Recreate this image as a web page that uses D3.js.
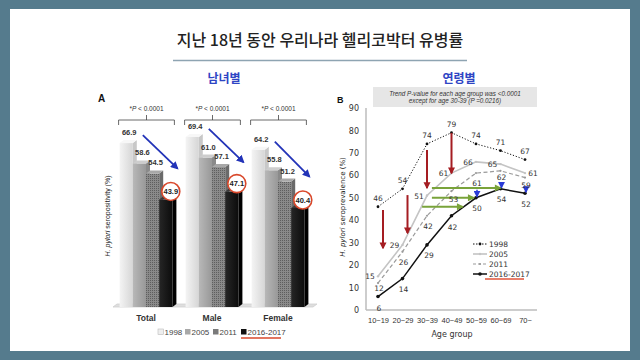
<!DOCTYPE html>
<html><head><meta charset="utf-8">
<script src="https://cdn.jsdelivr.net/npm/d3@7"></script>
<style>html,body{margin:0;padding:0;background:#fff}svg{display:block}</style>
</head><body>
<svg id="c" width="640" height="360"></svg>
<script>
// ---------- data ----------
const titleText = "지난 18년 동안 우리나라 헬리코박터 유병률";
const subA = "남녀별", subB = "연령별";
const groups = ["Total", "Male", "Female"];
const years = ["1998", "2005", "2011", "2016-2017"];
const totalValues = [66.9, 58.6, 54.5, 43.9];
const maleValues = [69.4, 61.0, 57.1, 47.1];
const femaleValues = [64.2, 55.8, 51.2, 40.4];
const groupValues = [totalValues, maleValues, femaleValues];
const pLabel = "< 0.0001";

const ages = ["10~19", "20~29", "30~39", "40~49", "50~59", "60~69", "70~"];
const s1998 = [46, 54, 74, 79, 74, 71, 67];
const s2005 = [15, 29, 51, 61, 66, 65, 61];
const s2011 = [12, 26, 42, 53, 61, 62, 59];
const s2016 = [6, 14, 29, 42, 50, 54, 52];
const yTicksB = [0, 10, 20, 30, 40, 50, 60, 70, 80, 90];
const redArrows = [[0, 44.6, 27.6], [1, 51.2, 34.3], [2, 71.3, 54.4], [3, 78.9, 61.0]]; // [age index, from, to]
const greenArrows = [[54.4, 2.2, 5.0], [50.0, 2.2, 3.9], [46.0, 1.8, 3.45]];        // [value, from idx, to idx]
const blueArrows = [[4, 53.6, 50.6], [5, 57.0, 54.6], [6, 55.0, 52.6]];
const trendLines = ["Trend P-value for each age group was <0.0001", "except for age 30-39 (P =0.0216)"];

// ---------- setup ----------
const svg = d3.select("#c");
const KR = "'Noto Sans CJK KR','Noto Sans',sans-serif";
const LS = "'Liberation Sans',Arial,sans-serif";
const DJ = "'DejaVu Sans',sans-serif";
const defs = svg.append("defs");
function arrowMarker(id, color, w, h) {
  defs.append("marker").attr("id", id).attr("viewBox", "0 0 10 10").attr("refX", 8).attr("refY", 5)
    .attr("markerWidth", w).attr("markerHeight", h).attr("orient", "auto").attr("markerUnits", "userSpaceOnUse")
    .append("path").attr("d", "M0,0 L10,5 L0,10 z").attr("fill", color);
}
arrowMarker("ab", "#2233b8", 8, 8);
arrowMarker("ar", "#a51d22", 7, 8);
arrowMarker("ag", "#79a33a", 8, 7);
arrowMarker("abs", "#2a3bd6", 7, 7);

const g1 = defs.append("linearGradient").attr("id", "g1998");
g1.append("stop").attr("offset", "0").attr("stop-color", "#f4f4f4");
g1.append("stop").attr("offset", "1").attr("stop-color", "#d6d6d6");
const g2 = defs.append("linearGradient").attr("id", "g2005");
g2.append("stop").attr("offset", "0").attr("stop-color", "#b8b8b8");
g2.append("stop").attr("offset", "1").attr("stop-color", "#989898");
const pat = defs.append("pattern").attr("id", "p2011").attr("width", 2).attr("height", 2).attr("patternUnits", "userSpaceOnUse");
pat.append("rect").attr("width", 2).attr("height", 2).attr("fill", "#8a8a8a");
pat.append("rect").attr("width", 1).attr("height", 1).attr("fill", "#5e5e5e");
const g4 = defs.append("linearGradient").attr("id", "g2016");
g4.append("stop").attr("offset", "0").attr("stop-color", "#262626");
g4.append("stop").attr("offset", "1").attr("stop-color", "#0c0c0c");
const fronts = ["url(#g1998)", "url(#g2005)", "url(#p2011)", "url(#g2016)"];
const tops = ["#f7f7f7", "#cdcdcd", "#a8a8a8", "#3a3a3a"];
const sides = ["#c8c8c8", "#8a8a8a", "#6a6a6a", "#000"];
const legendFill = ["#eeeeee", "#a8a8a8", "#7a7a7a", "#111"];

// frame
svg.append("rect").attr("width", 640).attr("height", 360).attr("fill", "#557b8d");
svg.append("rect").attr("x", 10).attr("y", 9).attr("width", 620).attr("height", 342).attr("fill", "#fff");

// title
svg.append("text").attr("x", 320).attr("y", 46).attr("text-anchor", "middle")
  .attr("font-family", KR).attr("font-size", 16).attr("font-weight", 500).attr("fill", "#222").text(titleText);
svg.append("line").attr("x1", 173).attr("x2", 467).attr("y1", 60.5).attr("y2", 60.5)
  .attr("stroke", "#8ea4b2").attr("stroke-width", 1.5);
svg.append("text").attr("x", 224).attr("y", 83).attr("text-anchor", "middle").attr("font-family", KR)
  .attr("font-size", 12).attr("font-weight", 700).attr("fill", "#2f45c4").text(subA);
svg.append("text").attr("x", 459).attr("y", 83).attr("text-anchor", "middle").attr("font-family", KR)
  .attr("font-size", 12).attr("font-weight", 700).attr("fill", "#2f45c4").text(subB);

// ---------- Panel A ----------
const A = svg.append("g");
A.append("text").attr("x", 98).attr("y", 102).attr("font-family", LS).attr("font-weight", 700)
  .attr("font-size", 10).attr("fill", "#111").text("A");
const xG = d3.scaleBand().domain(groups).range([113, 311]).paddingInner(0.2).paddingOuter(0.1);
const xY = d3.scaleBand().domain(years).range([0, xG.bandwidth()]);
const yA = d3.scaleLinear().domain([0, 70]).range([307, 135.5]);
const dx = 4, dy = -3, base = yA(0);

// floor
A.append("path").attr("d", `M${113},${base} L${313},${base} L${313 + dx},${base + dy} L${113 + dx},${base + dy} Z`)
  .attr("fill", "#dedede").attr("stroke", "#cfcfcf").attr("stroke-width", 0.8);

groups.forEach((gname, gi) => {
  const gx = xG(gname);
  const vals = groupValues[gi];
  const gg = A.append("g");
  years.forEach((yr, yi) => {
    const x = gx + xY(yr), w = xY.bandwidth(), y = yA(vals[yi]);
    gg.append("path").attr("d", `M${x + w},${y} L${x + w + dx},${y + dy} L${x + w + dx},${base + dy} L${x + w},${base} Z`).attr("fill", sides[yi]);
    gg.append("rect").attr("x", x).attr("y", y).attr("width", w).attr("height", base - y).attr("fill", fronts[yi]);
    gg.append("path").attr("d", `M${x},${y} L${x + dx},${y + dy} L${x + w + dx},${y + dy} L${x + w},${y} Z`).attr("fill", tops[yi]);
  });
  // value labels
  years.forEach((yr, yi) => {
    const cx = gx + xY(yr) + xY.bandwidth() / 2, y = yA(vals[yi]);
    if (yi < 3) {
      gg.append("text").attr("x", cx + 3).attr("y", y - 8).attr("text-anchor", "middle").attr("font-family", LS)
        .attr("font-size", 7.5).attr("font-weight", 700).attr("fill", "#333").text(vals[yi].toFixed(1));
    } else {
      gg.append("circle").attr("cx", cx + 5).attr("cy", y - 8).attr("r", 9).attr("fill", "#fff")
        .attr("stroke", "#d9482b").attr("stroke-width", 1.6);
      gg.append("text").attr("x", cx + 5).attr("y", y - 5.5).attr("text-anchor", "middle").attr("font-family", LS)
        .attr("font-size", 7.5).attr("font-weight", 700).attr("fill", "#222").text(vals[yi].toFixed(1));
    }
  });
  // blue trend arrow
  const x0 = gx + xY(years[0]) + xY.bandwidth() + 10, y0 = yA(vals[0]) - 8;
  const x1 = gx + xY(years[3]) + xY.bandwidth() + 5, y1 = yA(vals[2]) - 5;
  gg.append("line").attr("x1", x0).attr("y1", y0).attr("x2", x1).attr("y2", y1)
    .attr("stroke", "#2233b8").attr("stroke-width", 1.8).attr("marker-end", "url(#ab)");
  // brace + p label
  const bx0 = gx - 1, bx1 = gx + xG.bandwidth() + 2, bc = (bx0 + bx1) / 2;
  gg.append("path").attr("d", `M${bx0},125 L${bx0},120 L${bx1},120 L${bx1},125 M${bc},120 L${bc},115`)
    .attr("fill", "none").attr("stroke", "#444").attr("stroke-width", 0.8);
  const pt = gg.append("text").attr("x", bc).attr("y", 111).attr("text-anchor", "middle").attr("font-family", LS)
    .attr("font-size", 6.5).attr("fill", "#333");
  pt.append("tspan").text("*");
  pt.append("tspan").attr("font-style", "italic").text("P");
  pt.append("tspan").text(" " + pLabel);
  // category label
  A.append("text").attr("x", gx + xG.bandwidth() / 2).attr("y", 321).attr("text-anchor", "middle")
    .attr("font-family", LS).attr("font-size", 8.5).attr("font-weight", 700).attr("fill", "#333").text(gname);
});
// y label A
const yla = A.append("text").attr("transform", "translate(110,216) rotate(-90)").attr("text-anchor", "middle")
  .attr("font-family", LS).attr("font-size", 7).attr("fill", "#222");
yla.append("tspan").attr("font-style", "italic").text("H. pylori");
yla.append("tspan").text(" seropositivity (%)");
// legend A
const legX = [158, 185, 213, 241];
years.forEach((yr, i) => {
  A.append("rect").attr("x", legX[i]).attr("y", 329).attr("width", 5.5).attr("height", 5.5)
    .attr("fill", legendFill[i]).attr("stroke", i === 0 ? "#bbb" : "none").attr("stroke-width", 0.6);
  A.append("text").attr("x", legX[i] + 6.5).attr("y", 335).attr("font-family", LS).attr("font-size", 8)
    .attr("fill", "#444").text(yr);
});
A.append("line").attr("x1", 241).attr("x2", 281).attr("y1", 338).attr("y2", 338)
  .attr("stroke", "#d9482b").attr("stroke-width", 1.5);

// ---------- Panel B ----------
const B = svg.append("g");
B.append("text").attr("x", 337).attr("y", 103).attr("font-family", LS).attr("font-weight", 700)
  .attr("font-size", 9).attr("fill", "#111").text("B");
B.append("rect").attr("x", 373).attr("y", 87).attr("width", 164).attr("height", 20).attr("fill", "#e6e6e6");
trendLines.forEach((t, i) => {
  B.append("text").attr("x", 455).attr("y", 96 + i * 7).attr("text-anchor", "middle").attr("font-family", LS)
    .attr("font-size", 6.3).attr("font-style", "italic").attr("fill", "#333").text(t);
});
const xB = d3.scalePoint().domain(ages).range([378, 525]);
const xI = d3.scaleLinear().domain([0, ages.length - 1]).range([378, 525]);
const yB = d3.scaleLinear().domain([0, 90]).range([310, 108]);

B.append("line").attr("x1", 366).attr("x2", 366).attr("y1", 108).attr("y2", 310).attr("stroke", "#bdbdbd").attr("stroke-width", 1.5);
B.append("line").attr("x1", 366).attr("x2", 537).attr("y1", 310).attr("y2", 310).attr("stroke", "#bdbdbd").attr("stroke-width", 1.5);
const yAxB = d3.axisLeft(yB).tickValues(yTicksB).tickSize(0).tickPadding(0);
const yag = B.append("g").attr("transform", "translate(359,0)").call(yAxB);
yag.select(".domain").remove();
yag.selectAll("text").attr("font-family", DJ).attr("font-size", 8).attr("fill", "#333");
const xAxB = d3.axisBottom(xB).tickSize(0).tickPadding(6);
const xag = B.append("g").attr("transform", "translate(0,317)").call(xAxB);
xag.select(".domain").remove();
xag.selectAll("text").attr("font-family", LS).attr("font-size", 7.5).attr("fill", "#333").attr("dy", "0");
B.append("text").attr("x", 452).attr("y", 337).attr("text-anchor", "middle").attr("font-family", DJ)
  .attr("font-size", 8).attr("fill", "#333").text("Age group");
const ylb = B.append("text").attr("transform", "translate(345,207) rotate(-90)").attr("text-anchor", "middle")
  .attr("font-family", DJ).attr("font-size", 7).attr("fill", "#222");
ylb.append("tspan").attr("font-style", "italic").text("H. pylori");
ylb.append("tspan").text(" seroprevalence (%)");

const series = [
  { name: "1998", vals: s1998, color: "#111", w: 1, dash: "1.2,1.8", r: 1.4, mcol: "#111" },
  { name: "2005", vals: s2005, color: "#c4c4c4", w: 1.6, dash: null, r: 1.2, mcol: "#c4c4c4" },
  { name: "2011", vals: s2011, color: "#9a9a9a", w: 1.2, dash: "4,2.5", r: 1.1, mcol: "#9a9a9a" },
  { name: "2016-2017", vals: s2016, color: "#111", w: 1.5, dash: null, r: 1.8, mcol: "#111" }
];
const line = d3.line().x((d, i) => xB(ages[i])).y(d => yB(d));
series.forEach(s => {
  B.append("path").datum(s.vals).attr("d", line).attr("fill", "none").attr("stroke", s.color)
    .attr("stroke-width", s.w).attr("stroke-dasharray", s.dash);
  B.selectAll(null).data(s.vals).enter().append("circle").attr("cx", (d, i) => xB(ages[i])).attr("cy", d => yB(d))
    .attr("r", s.r).attr("fill", s.mcol);
});

// arrows
redArrows.forEach(a => {
  B.append("line").attr("x1", xI(a[0]) + (a[0] < 2 ? 5 : 0)).attr("x2", xI(a[0]) + (a[0] < 2 ? 5 : 0))
    .attr("y1", yB(a[1])).attr("y2", yB(a[2])).attr("stroke", "#a51d22").attr("stroke-width", 2).attr("marker-end", "url(#ar)");
});
greenArrows.forEach(a => {
  B.append("line").attr("x1", xI(a[1])).attr("x2", xI(a[2])).attr("y1", yB(a[0])).attr("y2", yB(a[0]))
    .attr("stroke", "#79a33a").attr("stroke-width", 2).attr("marker-end", "url(#ag)");
});
blueArrows.forEach(a => {
  B.append("line").attr("x1", xI(a[0]) + 1).attr("x2", xI(a[0]) + 1).attr("y1", yB(a[1])).attr("y2", yB(a[2]))
    .attr("stroke", "#2a3bd6").attr("stroke-width", 1.5).attr("marker-end", "url(#abs)");
});

// value labels
function lbl(vals, fdx, fdy) {
  vals.forEach((v, i) => {
    B.append("text").attr("x", xB(ages[i]) + fdx(i)).attr("y", yB(v) + fdy(i)).attr("text-anchor", "middle")
      .attr("font-family", DJ).attr("font-size", 7.5).attr("fill", "#333").text(v);
  });
}
lbl(s1998, i => 0, i => -6);
lbl(s2005, i => i === 6 ? 8 : -8, i => 3);
lbl(s2011, i => i === 3 ? 2 : 1, i => [8, 13, 13, 11, 13, 9, 10][i]);
lbl(s2016, i => i === 2 ? 2 : 1, i => [14, 13, 13, 14, 13, 13, 14][i]);

// legend B
const legRows = [244, 254, 264, 274];
series.forEach((s, i) => {
  const y = legRows[i];
  B.append("line").attr("x1", 473).attr("x2", 487).attr("y1", y).attr("y2", y).attr("stroke", s.color)
    .attr("stroke-width", s.w).attr("stroke-dasharray", s.dash ? (i === 0 ? "1.5,1.5" : "3,2") : null);
  B.append("circle").attr("cx", 480).attr("cy", y).attr("r", s.r).attr("fill", s.mcol);
  B.append("text").attr("x", 489).attr("y", y + 3).attr("font-family", DJ).attr("font-size", 7.5)
    .attr("fill", "#333").text(s.name);
});
B.append("line").attr("x1", 485).attr("x2", 524).attr("y1", 279).attr("y2", 279).attr("stroke", "#e0553a").attr("stroke-width", 1.5);
</script>
</body></html>
